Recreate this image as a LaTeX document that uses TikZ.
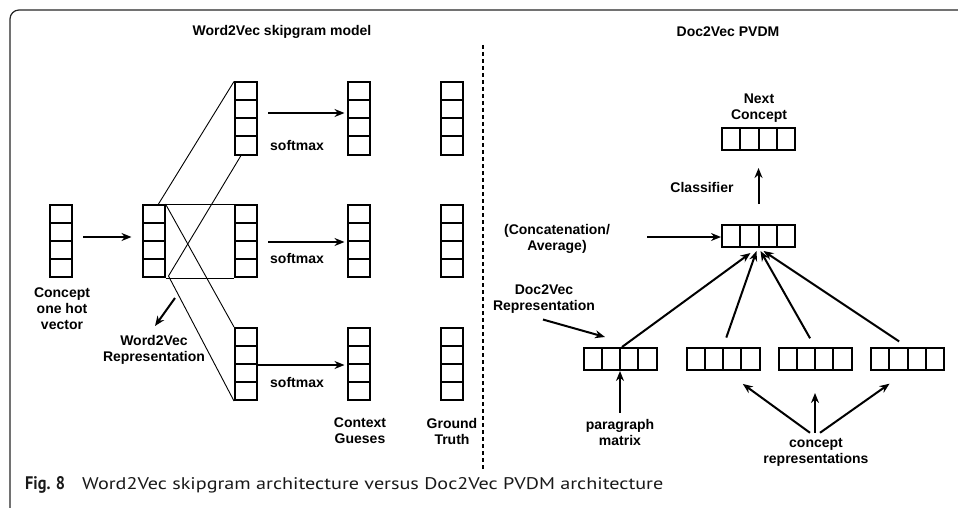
\documentclass[tikz,border=0pt]{standalone}
\usepackage{fontspec}
\setmainfont{Liberation Sans}
\newfontfamily\capfont{PT Sans}
\usetikzlibrary{arrows.meta,calc}
\begin{document}
\begin{tikzpicture}[x=1pt,y=-1pt,
  vvec/.style={draw, line width=2pt, minimum width=22pt, minimum height=72pt, inner sep=0pt,
    path picture={\foreach \f in {0.25,0.5,0.75}{\draw[line width=2pt]
      ($(path picture bounding box.north west)!\f!(path picture bounding box.south west)$) --
      ($(path picture bounding box.north east)!\f!(path picture bounding box.south east)$);}}},
  hvec/.style={draw, line width=2pt, minimum width=73pt, minimum height=22pt, inner sep=0pt,
    path picture={\foreach \f in {0.25,0.5,0.75}{\draw[line width=2pt]
      ($(path picture bounding box.north west)!\f!(path picture bounding box.north east)$) --
      ($(path picture bounding box.south west)!\f!(path picture bounding box.south east)$);}}},
  lbl/.style={font=\bfseries\fontsize{14}{16}\selectfont, align=center, inner sep=0pt},
  arr/.style={line width=2pt, -{Stealth[length=10pt,width=8pt]}},
  thin/.style={line width=0.9pt},
  captxt/.style={anchor=base west, inner sep=0pt, text=black!90}
]
\useasboundingbox (0,0) rectangle (958,508);
\begin{scope}
\clip (0,0) rectangle (958,508);
\draw[line width=1.2pt, black!85, rounded corners=9pt] (980,10) -- (10,10) -- (10,518) -- (40,518);
\end{scope}

% titles
\node[lbl] (t1) at (282,32) {Word2Vec skipgram model};
\node[lbl] (t2) at (728,32) {Doc2Vec PVDM};

% dashed divider
\coordinate (d0) at (483,45);
\coordinate (d1) at (483,470);
\draw[line width=2pt, dash pattern=on 4pt off 3pt] (d0) -- (d1);

% ---------- Word2Vec ----------
\node[vvec] (cv) at (61,241) {};
\node[vvec] (h) at (153.5,241) {};
\node[vvec] (o1) at (246,118.5) {};
\node[vvec] (o2) at (246,241) {};
\node[vvec] (o3) at (246,364) {};
\node[vvec] (c1) at (358.5,118.5) {};
\node[vvec] (c2) at (358.5,241) {};
\node[vvec] (c3) at (358.5,364) {};
\node[vvec] (g1) at (452,118.5) {};
\node[vvec] (g2) at (452,241) {};
\node[vvec] (g3) at (452,364) {};

\draw[thin] ([xshift=5pt]h.north) -- (o1.north west);
\draw[thin] ([xshift=3pt,yshift=2pt]h.south east) -- ([xshift=7pt]o1.south west);
\draw[thin] (h.north east) -- (o2.north west);
\draw[thin] (h.south east) -- (o2.south west);
\draw[thin] (h.north east) -- (o3.north west);
\draw[thin] ([xshift=3pt,yshift=2pt]h.south east) -- (o3.south west);

\draw[arr, shorten <=10pt, shorten >=10pt] ([yshift=4pt]cv.east) -- ([yshift=4pt]h.west);
\draw[arr, shorten <=10pt, shorten >=2pt] ([yshift=5.5pt]o1.east) -- ([yshift=5.5pt]c1.west);
\draw[arr, shorten <=10pt, shorten >=2pt] ([yshift=-1pt]o2.east) -- ([yshift=-1pt]c2.west);
\draw[arr, shorten >=2pt] ([yshift=-1pt]o3.east) -- ([yshift=-1pt]c3.west);

\node[lbl] (sm1) at (297,145) {softmax};
\node[lbl] (sm2) at (297,258) {softmax};
\node[lbl] (sm3) at (297,382) {softmax};

\node[lbl] (cvl) at (62,309) {Concept\\one hot\\vector};
\node[lbl] (wrep) at (154,350) {Word2Vec\\Representation};
\coordinate (wr0) at (175,298);
\coordinate (wr1) at (155,326);
\draw[arr] (wr0) -- (wr1);

\node[lbl] (ctxl) at (360,431) {Context\\Gueses};
\node[lbl] (gtl) at (452,431) {Ground\\Truth};

% ---------- Doc2Vec ----------
\node[hvec] (nc) at (758.5,139) {};
\node[hvec] (agg) at (758.5,236) {};
\node[hvec] (p1) at (620,359) {};
\node[hvec] (p2) at (723,359) {};
\node[hvec] (p3) at (815,359) {};
\node[hvec] (p4) at (907.5,359) {};

\node[lbl] (ncl) at (759,108.5) {Next\\Concept};
\node[lbl] (clf) at (702,187) {Classifier};
\draw[arr, shorten <=20pt, shorten >=17pt] (agg.north) -- (nc.south);

\node[lbl] (cat) at (557,239) {(Concatenation/\\Average)};
\draw[arr] ([xshift=37pt,yshift=2pt]cat.east) -- ([yshift=-1pt]agg.west);

\draw[arr] ([xshift=2pt]p1.north) -- ([xshift=-8pt,yshift=-5pt]agg.south);
\draw[arr, shorten <=10pt] (p2.north) -- ([xshift=-2pt,yshift=-3pt]agg.south);
\draw[arr, shorten <=10pt] (p3.north) -- ([xshift=2pt,yshift=-3pt]agg.south);
\draw[arr, shorten <=10pt] (p4.north) -- ([xshift=5pt,yshift=-3pt]agg.south);

\node[lbl] (d2v) at (544,299) {Doc2Vec\\Representation};
\draw[arr] ([xshift=-1pt,yshift=-6pt]d2v.south) -- ([xshift=-15pt,yshift=10pt]p1.north);

\node[lbl] (pm) at (620,432) {paragraph\\matrix};
\draw[arr, shorten <=6pt] (pm.north) -- (p1.south);

\node[lbl] (cr) at (816,452) {concept\\representations};
\draw[arr, shorten >=22pt] ([xshift=-6pt,yshift=5pt]cr.north) -- ([xshift=2pt]p2.south);
\draw[arr, shorten >=22pt] ([xshift=-1pt,yshift=5pt]cr.north) -- (p3.south);
\draw[arr, shorten >=22pt] ([xshift=4pt,yshift=5pt]cr.north) -- (p4.south);

% caption
\node[captxt] (capa) at (25,489)
  {\resizebox{40pt}{13pt}{\capfont\bfseries Fig. 8}};
\node[captxt] (capb) at (82,489)
  {\resizebox{581pt}{12pt}{\capfont Word2Vec skipgram architecture versus Doc2Vec PVDM architecture}};
\end{tikzpicture}
\end{document}
